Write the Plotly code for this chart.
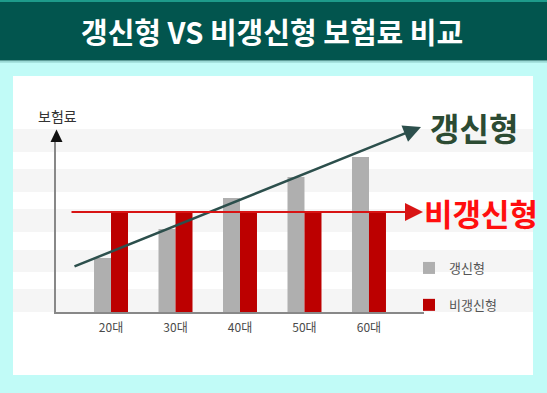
import plotly.graph_objects as go

# ---- data ----
ages = ["20대", "30대", "40대", "50대", "60대"]
renewable = [2.7, 4.15, 5.7, 6.75, 7.75]        # 갱신형 보험료 (상대값)
non_renewable = [5.0, 5.0, 5.0, 5.0, 5.0]       # 비갱신형 보험료 (상대값)
series_names = ["갱신형", "비갱신형"]
title_text = "갱신형 VS 비갱신형 보험료 비교"
y_label = "보험료"

W, H = 547, 393
FONT = "Noto Sans CJK KR"


def px(x):
    return x / W


def py(y):
    return 1 - y / H


fig = go.Figure()
fig.add_trace(go.Bar(x=ages, y=renewable, name=series_names[0],
                     marker=dict(color="#AFAFAF", line=dict(width=0)),
                     legendgroup="a"))
fig.add_trace(go.Bar(x=ages, y=non_renewable, name=series_names[1],
                     marker=dict(color="#BC0000", line=dict(width=0)),
                     legendgroup="b"))

shapes = []
# header
shapes.append(dict(type="rect", xref="paper", yref="paper", x0=0, x1=1,
                   y0=py(60), y1=py(0), fillcolor="#02554E", line=dict(width=0), layer="below"))
shapes.append(dict(type="rect", xref="paper", yref="paper", x0=0, x1=1,
                   y0=py(2), y1=py(0), fillcolor="#1E9B8B", line=dict(width=0), layer="below"))
shapes.append(dict(type="rect", xref="paper", yref="paper", x0=0, x1=1,
                   y0=py(61.5), y1=py(60), fillcolor="#5E9E99", line=dict(width=0), layer="below"))
shapes.append(dict(type="rect", xref="paper", yref="paper", x0=0, x1=1,
                   y0=py(63), y1=py(61.5), fillcolor="#A6E3DF", line=dict(width=0), layer="below"))
# white panel
shapes.append(dict(type="rect", xref="paper", yref="paper", x0=px(13), x1=px(533),
                   y0=py(375), y1=py(76), fillcolor="#FFFFFF", line=dict(width=0), layer="below"))
# stripes
for top, bot in [(129, 152), (169, 192), (209, 232), (250, 272), (289, 312)]:
    shapes.append(dict(type="rect", xref="paper", yref="paper", x0=px(13), x1=px(533),
                       y0=py(bot), y1=py(top), fillcolor="#F5F5F5", line=dict(width=0), layer="below"))
# y-axis arrow head
shapes.append(dict(type="path", xref="paper", yref="paper",
                   path=f"M {px(50.5)} {py(142)} L {px(62.5)} {py(142)} L {px(56.5)} {py(129.5)} Z",
                   fillcolor="#111111", line=dict(width=0)))

C = dict(xanchor="center", yanchor="middle", showarrow=False, xref="paper", yref="paper")
annotations = []
annotations.append(dict(text=f"<b>{title_text}</b>", x=px(272), y=py(31),
                        font=dict(family=FONT, size=29, color="#FFFFFF"), **C))
annotations.append(dict(text=y_label, x=px(57), y=py(116),
                        font=dict(family=FONT, size=14, color="#333333"), **C))
# trend arrows
annotations.append(dict(text="", xref="paper", yref="paper", x=px(421), y=py(127),
                        ax=-348, ay=140, axref="pixel", ayref="pixel", showarrow=True,
                        arrowhead=2, arrowsize=1.4, arrowwidth=2.5, arrowcolor="#2C4F4C",
                        standoff=0, startstandoff=0))
annotations.append(dict(text="", xref="paper", yref="paper", x=px(423), y=py(212),
                        ax=-353, ay=0, axref="pixel", ayref="pixel", showarrow=True,
                        arrowhead=2, arrowsize=1.8, arrowwidth=2, arrowcolor="#D81414",
                        standoff=0, startstandoff=0))
annotations.append(dict(text=f"<b>{series_names[0]}</b>", x=px(474), y=py(127),
                        font=dict(family=FONT, size=32, color="#2C4B33"), **C))
annotations.append(dict(text=f"<b>{series_names[1]}</b>", x=px(481), y=py(212),
                        font=dict(family=FONT, size=31, color="#FF0E0E"), **C))

fig.update_layout(
    width=W, height=H, autosize=False,
    margin=dict(l=0, r=0, t=0, b=0),
    paper_bgcolor="#C1FBF7", plot_bgcolor="rgba(0,0,0,0)",
    barmode="group", bargap=0.473, bargroupgap=0,
    shapes=shapes, annotations=annotations,
    showlegend=True,
    legend=dict(x=px(409), y=py(253), xanchor="left", yanchor="top",
                bgcolor="rgba(0,0,0,0)", font=dict(family=FONT, size=13, color="#555555"),
                traceorder="grouped", tracegroupgap=17),
    xaxis=dict(domain=[px(56), px(424)], range=[-0.853, 4.853], type="category",
               showline=True, linecolor="#888888", linewidth=1.5, showgrid=False,
               ticks="outside", ticklen=4, tickcolor="rgba(0,0,0,0)",
               tickfont=dict(family=FONT, size=12, color="#4A4A4A")),
    yaxis=dict(domain=[py(312), py(141)], range=[0, 8.55],
               showline=True, linecolor="#888888", linewidth=1.5, showgrid=False,
               zeroline=False, showticklabels=False, ticks=""),
)

fig.write_html("out.html", config={"displayModeBar": False},
               post_script="document.body.style.margin='0px';")
